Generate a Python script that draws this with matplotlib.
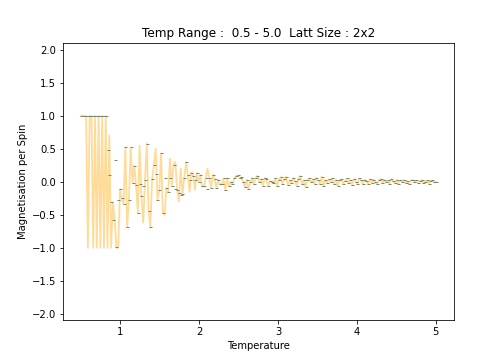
import numpy as np
import matplotlib
matplotlib.use("Agg")
import matplotlib.pyplot as plt

# temperature grid: 200 steps across the range in the title
t_min, t_max, n_t = 0.5, 5.0, 200
temps = np.linspace(t_min, t_max, n_t)

mag_pts = [
    1, 1, 1, 1, 1, 1, 1, 1, 1, 1,
    1, 1, 1, 1, 1, 0.48, 0.11, -0.31, -0.58, 0.33,
    -0.99, -0.28, -0.11, -0.25, -0.34, 0.52, -0.68, -0.28, 0.52, -0.02,
    0.24, -0.05, -0.47, -0.04, -0.22, -0.07, 0.02, 0.58, -0.44, -0.69,
    0.04, 0.25, 0.12, -0.28, -0.13, 0.43, -0.47, 0.06, -0.10, -0.16,
    0.05, -0.06, 0.26, -0.11, -0.12, -0.17, -0.20, -0.18, 0.06, 0.30,
    0.10, 0.03, 0.14, 0.09, 0.03, 0.13, 0.00, 0.10, -0.07, -0.07,
    0.05, -0.11, 0.05, -0.09, 0.11, 0.04, -0.09, 0.03, -0.04, -0.04,
    0.05, -0.13, 0.05, -0.07, 0.00, -0.04, 0.05, 0.09, 0.10, 0.05,
    0.07, 0.00, -0.08, 0.03, -0.11, 0.00, 0.06, -0.04, 0.06, 0.09,
    0.00, 0.04, -0.06, 0.06, 0.04, -0.07, 0.01, 0.00, -0.02, 0.05,
    -0.06, 0.03, 0.07, -0.03, 0.04, 0.08, -0.05, 0.02, -0.02, 0.06,
    0.01, -0.06, 0.04, 0.09, -0.03, 0.02, -0.08, 0.03, 0.05, -0.01,
    0.04, -0.04, 0.06, 0.02, -0.03, 0.08, -0.07, 0.03, -0.02, 0.04,
    0.00, 0.05, -0.04, 0.03, -0.06, 0.02, 0.04, -0.03, 0.01, 0.05,
    -0.02, 0.03, -0.05, 0.04, 0.00, -0.03, 0.05, 0.02, -0.04, 0.03,
    0.01, -0.03, 0.04, -0.02, 0.03, 0.00, -0.04, 0.02, 0.04, -0.02,
    0.03, -0.01, 0.02, -0.03, 0.04, 0.01, -0.02, 0.03, -0.03, 0.02,
    0.00, 0.03, -0.02, 0.01, -0.03, 0.02, 0.03, -0.01, 0.02, -0.02,
    0.01, 0.03, -0.02, 0.00, 0.02, -0.03, 0.01, 0.02, -0.01, 0.00,
]

# the line trace (flips between +1/-1 at low temperature)
mag_line = [
    1, 1, 1, 1, -1, 1, 1, -1, 1, -1,
    1, -1, 1, -1, 1, -1, 0.70, -1, -0.31, -0.58,
    -1, -1, -0.11, -0.25, -0.34, 0.52, -0.68, -0.28, 0.52, -0.02,
    0.24, -0.05, -0.47, 0.55, -0.22, -0.62, 0.02, 0.58, -0.44, -0.69,
    0.04, 0.25, 0.50, -0.28, -0.13, 0.43, -0.47, -0.50, -0.10, -0.16,
    0.35, -0.06, 0.26, 0.30, -0.12, -0.30, 0.20, -0.18, 0.06, 0.30,
    0.10, -0.15, 0.14, 0.09, -0.12, 0.13, 0.00, 0.10, -0.07, -0.07,
    0.05, 0.20, 0.05, -0.09, 0.11, 0.04, -0.09, 0.03, -0.04, -0.04,
    0.05, -0.13, 0.05, -0.07, 0.00, -0.04, 0.05, 0.09, 0.10, 0.05,
    0.07, 0.00, -0.08, 0.03, -0.11, 0.00, 0.06, -0.04, 0.06, 0.09,
    0.00, 0.04, -0.06, 0.06, 0.04, -0.07, 0.01, 0.00, -0.02, 0.05,
    -0.06, 0.03, 0.07, -0.03, 0.04, 0.08, -0.05, 0.02, -0.02, 0.06,
    0.01, -0.06, 0.04, 0.09, -0.03, 0.02, -0.08, 0.03, 0.05, -0.01,
    0.04, -0.04, 0.06, 0.02, -0.03, 0.08, -0.07, 0.03, -0.02, 0.04,
    0.00, 0.05, -0.04, 0.03, -0.06, 0.02, 0.04, -0.03, 0.01, 0.05,
    -0.02, 0.03, -0.05, 0.04, 0.00, -0.03, 0.05, 0.02, -0.04, 0.03,
    0.01, -0.03, 0.04, -0.02, 0.03, 0.00, -0.04, 0.02, 0.04, -0.02,
    0.03, -0.01, 0.02, -0.03, 0.04, 0.01, -0.02, 0.03, -0.03, 0.02,
    0.00, 0.03, -0.02, 0.01, -0.03, 0.02, 0.03, -0.01, 0.02, -0.02,
    0.01, 0.03, -0.02, 0.00, 0.02, -0.03, 0.01, 0.02, -0.01, 0.00,
]

lattice = "2x2"

fig, ax = plt.subplots(figsize=(7, 5), dpi=72)

ax.plot(temps, mag_line, color="orange", alpha=0.4, linewidth=1.8)
ax.plot(temps, mag_pts, linestyle="none", marker="_", markersize=3,
        markeredgewidth=1, color="#78896c")

ax.set_ylim(-2.1, 2.1)
ax.set_title(f"Temp Range :  {t_min} - {t_max}  Latt Size : {lattice}")
ax.set_xlabel("Temperature")
ax.set_ylabel("Magnetisation per Spin")

fig.savefig("out.png", dpi=72)
